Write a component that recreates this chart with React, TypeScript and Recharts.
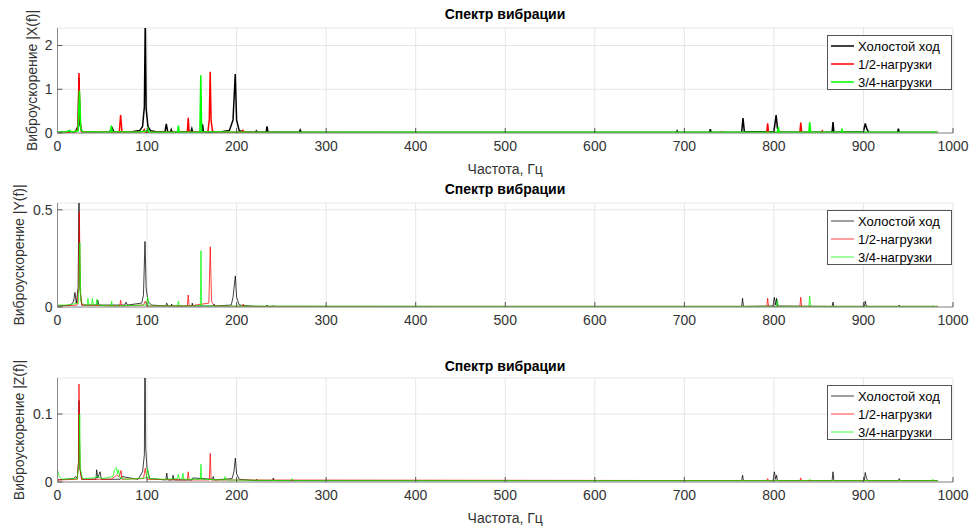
import React from "react";
import { LineChart, Line, XAxis, YAxis, CartesianGrid, Legend } from "recharts";

type Pt = [number, number];

const freqTicks = [0, 100, 200, 300, 400, 500, 600, 700, 800, 900, 1000];
const seriesNames = ["Холостой ход", "1/2-нагрузки", "3/4-нагрузки"];
const seriesColors = ["#000000", "#ff0000", "#00ff00"];

// |X(f)|
const xIdle: Pt[] = [
  [0, 0.01], [10, 0.02], [20, 0.03], [23, 0.15], [24, 1.26], [25, 0.2], [27, 0.03], [40, 0.02],
  [58, 0.02], [61, 0.12], [63, 0.03], [80, 0.02], [92, 0.06], [95, 0.15], [97, 0.6], [98, 2.6],
  [99, 0.55], [101, 0.15], [104, 0.05], [110, 0.03], [120, 0.03], [121.5, 0.21], [123, 0.03],
  [126, 0.02], [127, 0.08], [128, 0.02], [149, 0.03], [150, 0.1], [151, 0.02], [161, 0.02],
  [162, 0.2], [163, 0.02], [180, 0.02], [192, 0.06], [196, 0.3], [198.5, 1.35], [200, 0.3],
  [203, 0.05], [210, 0.02], [221, 0.02], [222, 0.05], [223, 0.02], [233, 0.02], [234, 0.15],
  [235, 0.02], [270, 0.02], [271, 0.07], [272, 0.02], [300, 0.01], [400, 0.01], [500, 0.01],
  [600, 0.01], [691, 0.01], [692, 0.05], [693, 0.01], [728, 0.01], [729, 0.09], [730, 0.01],
  [764, 0.02], [765.5, 0.34], [767, 0.03], [800, 0.03], [802.5, 0.41], [804, 0.1], [806, 0.02],
  [865, 0.02], [866, 0.25], [867, 0.02], [900, 0.03], [902, 0.22], [904, 0.08], [906, 0.02],
  [938, 0.01], [939, 0.1], [940, 0.01], [983, 0.01],
];
const xHalf: Pt[] = [
  [0, 0.01], [20, 0.02], [23, 0.1], [24, 1.37], [25, 0.3], [27, 0.03], [50, 0.02], [69, 0.02],
  [70.5, 0.41], [72, 0.02], [95, 0.03], [97, 0.08], [98, 0.02], [120, 0.02], [145, 0.02],
  [146, 0.35], [147, 0.02], [168, 0.03], [169.5, 0.3], [170.5, 1.4], [171.5, 0.3], [173, 0.05],
  [176, 0.02], [206, 0.02], [207, 0.06], [208, 0.02], [250, 0.01], [741, 0.01], [742, 0.03],
  [743, 0.01], [792, 0.01], [793, 0.22], [794, 0.01], [829, 0.01], [830, 0.24], [831, 0.02],
  [853, 0.01], [854, 0.05], [855, 0.01], [983, 0.01],
];
const xThreeQ: Pt[] = [
  [0, 0.02], [10, 0.03], [14, 0.06], [15, 0.02], [23, 0.05], [24.5, 0.97], [26, 0.1], [28, 0.03],
  [59, 0.02], [60, 0.17], [61, 0.03], [90, 0.02], [100, 0.05], [101, 0.1], [102, 0.02],
  [134, 0.02], [135, 0.17], [136, 0.02], [159, 0.02], [160, 1.32], [161, 0.03], [200, 0.02],
  [400, 0.02], [600, 0.02], [804, 0.02], [805, 0.14], [806, 0.02], [839, 0.02], [840, 0.25],
  [841, 0.02], [875, 0.02], [876, 0.08], [877, 0.02], [977, 0.02], [978, 0.03], [979, 0.01],
  [983, 0.01],
];

// |Y(f)|
const yIdle: Pt[] = [
  [0, 0.005], [15, 0.01], [18, 0.03], [19.5, 0.075], [21, 0.02], [23, 0.1], [24, 0.6], [25, 0.1],
  [27, 0.01], [44, 0.01], [45, 0.035], [46, 0.01], [75, 0.01], [76.5, 0.025], [78, 0.01],
  [94, 0.02], [96, 0.06], [97.7, 0.337], [99, 0.1], [101, 0.03], [105, 0.01], [121, 0.005],
  [122, 0.02], [123, 0.005], [127, 0.005], [127.5, 0.015], [128, 0.005], [150, 0.005],
  [150.5, 0.02], [151, 0.005], [174, 0.005], [174.7, 0.015], [175.5, 0.005], [194, 0.01],
  [196, 0.05], [198.6, 0.16], [200, 0.05], [203, 0.01], [222, 0.003], [222.4, 0.006],
  [223, 0.003], [233, 0.003], [234, 0.01], [235, 0.003], [240, 0.003], [241, 0.008], [242, 0.003],
  [500, 0.003], [764, 0.003], [765, 0.045], [766, 0.003], [799, 0.005], [800.5, 0.05],
  [802, 0.01], [803, 0.045], [804, 0.005], [865, 0.003], [866, 0.025], [867, 0.003],
  [901, 0.003], [902, 0.03], [903, 0.008], [905, 0.003], [939, 0.003], [940, 0.01],
  [941, 0.003], [983, 0.003],
];
const yHalf: Pt[] = [
  [0, 0.005], [22, 0.01], [23.5, 0.1], [24.4, 0.49], [25.5, 0.08], [27, 0.01], [69.5, 0.005],
  [70.5, 0.035], [71.5, 0.005], [96, 0.01], [98, 0.03], [100, 0.005], [145, 0.005], [146, 0.062],
  [147, 0.005], [169, 0.02], [170.6, 0.31], [172, 0.03], [175, 0.005], [207, 0.003],
  [207.5, 0.015], [208, 0.003], [792, 0.003], [793, 0.045], [794, 0.003], [829, 0.003],
  [830, 0.05], [831, 0.003], [983, 0.003],
];
const yThreeQ: Pt[] = [
  [0, 0.01], [10, 0.01], [23.5, 0.02], [25, 0.33], [26, 0.03], [30, 0.01], [33, 0.01],
  [34, 0.045], [35, 0.01], [38, 0.01], [39, 0.045], [40, 0.01], [43, 0.01], [44, 0.04],
  [45, 0.01], [60, 0.005], [60.5, 0.03], [61, 0.005], [99, 0.01], [100.7, 0.05], [102, 0.005],
  [134, 0.005], [135, 0.03], [136, 0.005], [159.5, 0.005], [160.2, 0.29], [161, 0.005],
  [500, 0.003], [803, 0.003], [804, 0.035], [805, 0.003], [839, 0.003], [840, 0.055],
  [841, 0.003], [977, 0.003], [977.5, 0.008], [978, 0.003], [983, 0.003],
];

// |Z(f)|
const zIdle: Pt[] = [
  [0, 0.003], [18, 0.005], [20.3, 0.008], [22, 0.005], [23.5, 0.03], [24, 0.12], [25, 0.02],
  [27, 0.004], [43, 0.004], [43.7, 0.018], [45, 0.006], [47.5, 0.015], [49, 0.004], [70, 0.004],
  [72, 0.008], [90, 0.004], [95, 0.015], [97, 0.04], [97.7, 0.2], [98.5, 0.05], [100, 0.02],
  [103, 0.005], [121, 0.003], [122, 0.013], [123, 0.003], [128.5, 0.003], [129, 0.01],
  [130, 0.003], [150, 0.003], [151, 0.006], [173, 0.004], [174, 0.008], [175, 0.003],
  [195, 0.005], [197, 0.015], [198.6, 0.035], [200, 0.012], [203, 0.004], [222, 0.002],
  [222.4, 0.004], [223, 0.002], [240, 0.002], [241, 0.006], [242, 0.002], [500, 0.002],
  [764, 0.002], [765, 0.01], [766, 0.002], [799, 0.002], [800.5, 0.015], [802, 0.004],
  [803, 0.01], [804, 0.002], [865, 0.002], [866, 0.015], [867, 0.002], [901, 0.002],
  [902, 0.014], [903.5, 0.005], [905, 0.002], [939, 0.002], [940, 0.005], [941, 0.002],
  [983, 0.002],
];
const zHalf: Pt[] = [
  [0, 0.003], [22, 0.004], [23.5, 0.03], [24, 0.144], [25, 0.02], [27, 0.004], [60, 0.004],
  [66, 0.01], [69, 0.008], [71, 0.017], [72, 0.004], [96, 0.005], [98, 0.02], [100, 0.004],
  [145, 0.003], [146, 0.015], [147, 0.003], [169.5, 0.003], [170.6, 0.042], [171.5, 0.003],
  [792, 0.002], [793, 0.005], [794, 0.002], [829, 0.002], [830, 0.006], [831, 0.002],
  [983, 0.002],
];
const zThreeQ: Pt[] = [
  [0, 0.018], [2, 0.008], [5, 0.004], [22, 0.005], [24.2, 0.03], [24.8, 0.0995], [25.5, 0.02],
  [28, 0.005], [40, 0.006], [45, 0.008], [50, 0.005], [62, 0.008], [64, 0.018], [66, 0.021],
  [67, 0.012], [68, 0.018], [70, 0.006], [76, 0.004], [99, 0.006], [100.7, 0.02], [102, 0.005],
  [120, 0.004], [134, 0.005], [135, 0.011], [136, 0.005], [139, 0.004], [140, 0.013],
  [141, 0.004], [159.5, 0.004], [160.2, 0.026], [161, 0.004], [186, 0.003], [187, 0.008],
  [188, 0.003], [260, 0.002], [262, 0.005], [263, 0.002], [500, 0.002], [839, 0.002],
  [840, 0.004], [841, 0.002], [977, 0.002], [977.5, 0.004], [978, 0.002], [983, 0.002],
];

const FONT = '"Liberation Sans", Arial, Helvetica, sans-serif';
const BORDER = "#8a8a8a";
const TICK = "#555";
const toPts = (a: Pt[]) => a.map(([f, v]) => ({ f, v }));

function LegendBox({ width, opacity }: { width: number; opacity: number }) {
  return (
    <div
      style={{
        width: 125,
        height: 55,
        boxSizing: "border-box",
        border: "1px solid #555",
        background: "#fff",
        fontFamily: FONT,
        fontSize: 13,
        color: "#000",
        paddingTop: 1,
      }}
    >
      {seriesNames.map((n, i) => (
        <div key={n} style={{ display: "flex", alignItems: "center", height: 18 }}>
          <svg width={30} height={18} style={{ display: "block" }}>
            <line
              x1={3}
              x2={26}
              y1={9}
              y2={9}
              stroke={seriesColors[i]}
              strokeWidth={width}
              strokeOpacity={opacity}
            />
          </svg>
          <span>{n}</span>
        </div>
      ))}
    </div>
  );
}

interface PanelProps {
  top: number;
  height: number;
  plotTop: number;
  plotBottom: number;
  xAxisH: number;
  titleY: number;
  legendY: number;
  series: Pt[][];
  yMax: number;
  yTicks: number[];
  yLabel: string;
  yLabelOffset: number;
  xLabel?: string;
  lineWidth: number;
  opacity: number;
}

function Panel(p: PanelProps) {
  const marginTop = p.plotTop - p.top;
  const marginBottom = p.top + p.height - p.plotBottom - p.xAxisH;
  return (
    <div style={{ position: "absolute", left: 0, top: p.top, width: 973, height: p.height }}>
      <LineChart
        width={973}
        height={p.height}
        margin={{ top: marginTop, right: 20, bottom: marginBottom, left: 17.5 }}
      >
        <CartesianGrid stroke="#e6e6e6" strokeWidth={1} />
        <XAxis
          dataKey="f"
          type="number"
          domain={[0, 1000]}
          ticks={freqTicks}
          height={p.xAxisH}
          tickSize={-5}
          tickMargin={13}
          tickLine={{ stroke: TICK }}
          axisLine={{ stroke: BORDER }}
          tick={{ fontSize: 14, fill: "#333", fontFamily: FONT }}
          allowDataOverflow
          label={
            p.xLabel
              ? {
                  value: p.xLabel,
                  position: "insideBottom",
                  offset: 4,
                  style: { fontSize: 14, fill: "#333", fontFamily: FONT },
                }
              : undefined
          }
        />
        <XAxis
          xAxisId="top"
          orientation="top"
          type="number"
          domain={[0, 1000]}
          ticks={freqTicks}
          height={0}
          tick={false}
          tickSize={-5}
          tickLine={{ stroke: TICK }}
          axisLine={{ stroke: BORDER }}
        />
        <YAxis
          type="number"
          domain={[0, p.yMax]}
          ticks={p.yTicks}
          width={40}
          tickSize={-5}
          tickMargin={10}
          tickLine={{ stroke: TICK }}
          allowDataOverflow
          axisLine={{ stroke: BORDER }}
          tick={{ fontSize: 14, fill: "#333", fontFamily: FONT }}
          label={{
            value: p.yLabel,
            angle: -90,
            position: "insideLeft",
            offset: p.yLabelOffset,
            style: { fontSize: 14, fill: "#333", fontFamily: FONT, textAnchor: "middle" },
          }}
        />
        <YAxis
          yAxisId="right"
          orientation="right"
          type="number"
          domain={[0, p.yMax]}
          ticks={p.yTicks}
          width={0}
          tick={false}
          tickSize={-5}
          tickLine={{ stroke: TICK }}
          axisLine={{ stroke: BORDER }}
        />
        {p.series.map((s, i) => (
          <Line
            key={seriesNames[i]}
            data={toPts(s)}
            dataKey="v"
            name={seriesNames[i]}
            type="linear"
            stroke={seriesColors[i]}
            strokeWidth={p.lineWidth}
            strokeOpacity={p.opacity}
            dot={false}
            activeDot={false}
            isAnimationActive={false}
          />
        ))}
        <Legend
          layout="horizontal"
          verticalAlign="middle"
          align="center"
          wrapperStyle={{ left: 827, top: p.legendY - p.top, width: 125, height: 55 }}
          content={() => <LegendBox width={p.lineWidth} opacity={p.opacity} />}
        />
      </LineChart>
      <div
        style={{
          position: "absolute",
          left: 305,
          width: 400,
          top: p.titleY - p.top - 9,
          lineHeight: "18px",
          textAlign: "center",
          fontFamily: FONT,
          fontWeight: "bold",
          fontSize: 14,
          color: "#000",
        }}
      >
        Спектр вибрации
      </div>
    </div>
  );
}

export default function App() {
  return (
    <div
      style={{
        position: "absolute",
        left: 0,
        top: 0,
        width: 973,
        height: 531,
        background: "#fff",
        overflow: "hidden",
      }}
    >
      <Panel
        top={0}
        height={180}
        plotTop={28}
        plotBottom={133}
        xAxisH={45}
        titleY={14}
        legendY={35}
        series={[xIdle, xHalf, xThreeQ]}
        yMax={2.4}
        yTicks={[0, 1, 2]}
        yLabel="Виброускорение |X(f)|"
        yLabelOffset={15}
        xLabel="Частота, Гц"
        lineWidth={1.5}
        opacity={1}
      />
      <Panel
        top={165}
        height={185}
        plotTop={203}
        plotBottom={307}
        xAxisH={30}
        titleY={189}
        legendY={210}
        series={[yIdle, yHalf, yThreeQ]}
        yMax={0.535}
        yTicks={[0, 0.5]}
        yLabel="Виброускорение |Y(f)|"
        yLabelOffset={2}
        lineWidth={1}
        opacity={0.75}
      />
      <Panel
        top={340}
        height={191}
        plotTop={378}
        plotBottom={482}
        xAxisH={45}
        titleY={366}
        legendY={385}
        series={[zIdle, zHalf, zThreeQ]}
        yMax={0.153}
        yTicks={[0, 0.1]}
        yLabel="Виброускорение |Z(f)|"
        yLabelOffset={2}
        xLabel="Частота, Гц"
        lineWidth={1}
        opacity={0.75}
      />
    </div>
  );
}
